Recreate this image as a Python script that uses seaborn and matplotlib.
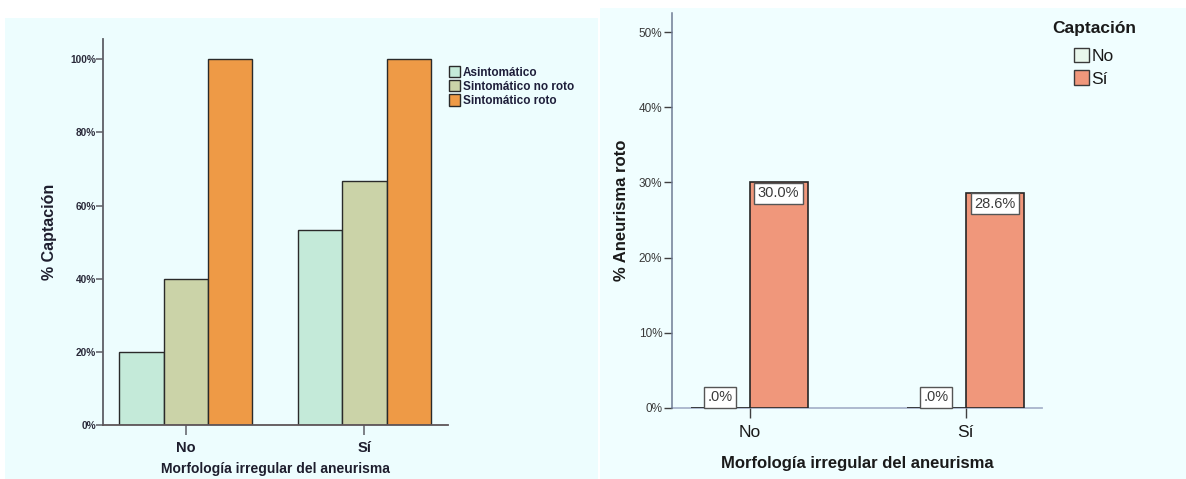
import matplotlib
matplotlib.use("Agg")
import matplotlib.pyplot as plt
from matplotlib.patches import Rectangle, Patch
from matplotlib.ticker import PercentFormatter
import pandas as pd
import seaborn as sns

# ---- data ----
morfologia = ["No", "Sí"]

grupos_clinicos = ["Asintomático", "Sintomático no roto", "Sintomático roto"]
pct_asintomatico = [20.0, 53.3]
pct_sint_no_roto = [40.0, 66.7]
pct_sint_roto = [100.0, 100.0]

captacion = ["No", "Sí"]
pct_roto_capt_no = [0.0, 0.0]
pct_roto_capt_si = [30.0, 28.6]

colores_grupo = ["#C4EAD9", "#CBD3A8", "#EE9A46"]
colores_capt = ["#E9F7EC", "#F0977B"]

W, H = 1186, 479

sns.set_theme(style="white")
plt.rcParams["font.family"] = ["Liberation Sans", "DejaVu Sans"]

fig = plt.figure(figsize=(W / 100, H / 100), dpi=100, facecolor="white")

# panel backgrounds
fig.add_artist(Rectangle((5 / W, 0), 593 / W, (H - 18) / H, transform=fig.transFigure,
                         facecolor="#EDFDFE", edgecolor="none", zorder=0))
fig.add_artist(Rectangle((600 / W, 0), 586 / W, (H - 8) / H, transform=fig.transFigure,
                         facecolor="#F0FEFF", edgecolor="none", zorder=0))


def fig_rect(x0, x1, y_bottom, y_top):
    return [x0 / W, (H - y_bottom) / H, (x1 - x0) / W, (y_bottom - y_top) / H]


# ---------------- left chart ----------------
df_izq = pd.DataFrame({
    "morfologia": morfologia * 3,
    "grupo": [g for g in grupos_clinicos for _ in morfologia],
    "pct": pct_asintomatico + pct_sint_no_roto + pct_sint_roto,
})

ax1 = fig.add_axes(fig_rect(103.3, 448, 425.3, 39))
ax1.set_facecolor("none")
sns.barplot(data=df_izq, x="morfologia", y="pct", hue="grupo", order=morfologia,
            hue_order=grupos_clinicos, palette=colores_grupo, width=0.743, gap=0,
            edgecolor="#2A2A2A", linewidth=1.0, saturation=1, legend=False, ax=ax1,
            errorbar=None)
ax1.set_xlim(-0.462, 1.468)
ax1.set_ylim(0, 105.5)
ax1.set_yticks([0, 20, 40, 60, 80, 100])
ax1.yaxis.set_major_formatter(PercentFormatter(decimals=0))
for s in ["top", "right"]:
    ax1.spines[s].set_visible(False)
ax1.spines["left"].set_color("#5E5E66")
ax1.spines["left"].set_linewidth(1.3)
ax1.spines["bottom"].set_color("#5E5558")
ax1.spines["bottom"].set_linewidth(1.3)
ax1.tick_params(axis="y", length=5, width=1.1, color="#5E5E66", pad=0,
                labelsize=7.3, labelcolor="#2A2A3A", left=True)
ax1.tick_params(axis="x", length=7, width=1.1, color="#5E5E66", pad=4,
                labelsize=10.5, labelcolor="#1E1E2E", bottom=True)
for t in ax1.get_yticklabels():
    t.set_fontweight("bold")
for t in ax1.get_xticklabels():
    t.set_fontweight("bold")
ax1.set_xlabel("Morfología irregular del aneurisma", fontsize=10, fontweight="bold",
               color="#1E1E2E", labelpad=5)
ax1.set_ylabel("% Captación", fontsize=11.5, fontweight="bold", color="#1E1E2E",
               labelpad=10)

handles1 = [Patch(facecolor=c, edgecolor="#2A2A2A", linewidth=1.0) for c in colores_grupo]
leg1 = ax1.legend(handles1, grupos_clinicos, loc="upper left",
                  bbox_to_anchor=(449 / W, 1 - 66 / H), bbox_transform=fig.transFigure,
                  frameon=False, fontsize=8.5, handlelength=0.95, handleheight=1.1,
                  handletextpad=0.25, labelspacing=0.12, borderaxespad=0, borderpad=0)
for t in leg1.get_texts():
    t.set_fontweight("bold")
    t.set_color("#1E1E3A")

# ---------------- right chart ----------------
df_der = pd.DataFrame({
    "morfologia": morfologia * 2,
    "captacion": [c for c in captacion for _ in morfologia],
    "pct": pct_roto_capt_no + pct_roto_capt_si,
})

ax2 = fig.add_axes(fig_rect(672, 1042, 408, 13.3))
ax2.set_facecolor("none")
sns.barplot(data=df_der, x="morfologia", y="pct", hue="captacion", order=morfologia,
            hue_order=captacion, palette=colores_capt, width=0.54, gap=0,
            edgecolor="#262626", linewidth=1.2, saturation=1, legend=False, ax=ax2,
            errorbar=None)
ax2.set_xlim(-0.359, 1.354)
ax2.set_ylim(0, 52.5)
ax2.set_yticks([0, 10, 20, 30, 40, 50])
ax2.yaxis.set_major_formatter(PercentFormatter(decimals=0))
for s in ["top", "right"]:
    ax2.spines[s].set_visible(False)
ax2.spines["left"].set_color("#707C94")
ax2.spines["left"].set_linewidth(1.1)
ax2.spines["bottom"].set_color("#A9B4CC")
ax2.spines["bottom"].set_linewidth(1.3)
# keep the zero-height bar outlines visible on top of the baseline
ax2.spines["bottom"].set_zorder(0.5)
ax2.tick_params(axis="y", length=6, width=1.0, color="#404040", pad=1,
                labelsize=8.5, labelcolor="#3A3A3A", left=True)
ax2.tick_params(axis="x", length=7, width=1.0, color="#404040", pad=5,
                labelsize=12.5, labelcolor="#1A1A1A", bottom=True)
ax2.set_xlabel("Morfología irregular del aneurisma", fontsize=12, fontweight="bold",
               color="#1A1A1A", labelpad=12)
ax2.set_ylabel("% Aneurisma roto", fontsize=12, fontweight="bold", color="#1A1A1A",
               labelpad=7)


def etiqueta(v):
    s = f"{v:.1f}%"
    return s[1:] if s.startswith("0.") else s


for cont, valores in zip(ax2.containers, [pct_roto_capt_no, pct_roto_capt_si]):
    for barra, v in zip(cont.patches, valores):
        xc = barra.get_x() + barra.get_width() / 2
        caja = dict(boxstyle="square,pad=0.24", facecolor="white", edgecolor="#555555",
                    linewidth=1.0)
        if v > 5:
            ax2.annotate(etiqueta(v), (xc, v), xytext=(0, -2.8), textcoords="offset points",
                         ha="center", va="top", fontsize=10.5, color="#3A3A3A", bbox=caja,
                         zorder=5)
        else:
            ax2.annotate(etiqueta(v), (xc, v), xytext=(0, 2.8), textcoords="offset points",
                         ha="center", va="bottom", fontsize=10.5, color="#3A3A3A", bbox=caja,
                         zorder=5)

# legend: title centred above the entries
fig.text(1094 / W, 1 - 29 / H, "Captación", ha="center", va="center", fontsize=12.5,
         fontweight="bold", color="#1A1A1A")
handles2 = [Patch(facecolor=c, edgecolor="#3A3A3A", linewidth=1.0) for c in colores_capt]
leg2 = ax2.legend(handles2, captacion, loc="upper center",
                  bbox_to_anchor=(1094 / W, 1 - 48 / H), bbox_transform=fig.transFigure,
                  frameon=False, fontsize=12.5, handlelength=0.85, handleheight=0.9,
                  handletextpad=0.15, labelspacing=0.36, borderaxespad=0, borderpad=0)
for t in leg2.get_texts():
    t.set_color("#1A1A1A")

fig.savefig("out.png", dpi=100, facecolor="white")
